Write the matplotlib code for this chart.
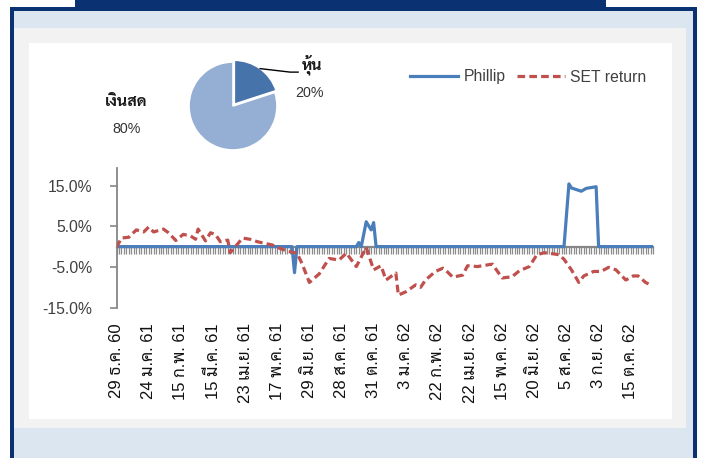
import matplotlib
matplotlib.use("Agg")
import matplotlib.pyplot as plt
from matplotlib.patches import Rectangle
from matplotlib.ticker import FixedLocator, FuncFormatter
import numpy as np

# ---------------- data ----------------
n_categories = 218
date_labels = ["29 ธ.ค. 60", "24 ม.ค. 61", "15 ก.พ. 61", "15 มี.ค. 61", "23 เม.ย. 61",
               "17 พ.ค. 61", "29 มิ.ย. 61", "28 ส.ค. 61", "31 ต.ค. 61", "3 ม.ค. 62",
               "22 ก.พ. 62", "22 เม.ย. 62", "15 พ.ค. 62", "20 มิ.ย. 62", "5 ส.ค. 62",
               "3 ก.ย. 62", "15 ต.ค. 62"]
label_step = 13

phillip_idx = [0, 71, 72, 73, 97, 98, 99, 101, 103, 104, 105, 181, 183, 184, 186,
               188, 190, 194, 195, 217]
phillip_val = [0.0, 0.0, -6.4, 0.0, 0.0, 1.0, 0.0, 6.1, 4.1, 5.9, 0.0, 0.0, 15.4, 14.4,
               14.0, 13.6, 14.3, 14.7, 0.0, 0.0]

set_idx = [0, 2, 5, 8, 11, 13, 15, 19, 21, 24, 27, 30, 32, 33, 36, 38, 40, 42, 45, 46,
           51, 54, 57, 60, 63, 66, 69, 73, 75, 78, 82, 86, 90, 93, 97, 101, 104, 107,
           109, 113, 114, 117, 121, 123, 125, 129, 132, 133, 136, 140, 142, 146, 150,
           152, 156, 160, 163, 167, 170, 173, 177, 179, 181, 184, 187, 189, 193, 196,
           199, 202, 206, 209, 211, 214, 216]
set_val = [-0.2, 2.1, 2.3, 4.1, 3.6, 4.8, 3.6, 4.3, 3.4, 1.5, 3.0, 2.6, 1.8, 4.3, 1.4,
           3.4, 3.0, 1.2, 1.6, -1.5, 2.1, 1.8, 1.2, 0.8, 0.4, -0.4, -1.1, -1.6, -4.1,
           -8.8, -6.7, -2.9, -3.3, -1.6, -4.9, -0.2, -5.7, -4.7, -8.2, -6.5, -11.9,
           -11.1, -9.4, -10.0, -8.2, -6.1, -5.3, -5.7, -7.5, -7.0, -4.7, -4.9, -4.5,
           -4.3, -7.7, -7.4, -5.9, -4.9, -2.0, -1.5, -1.8, -2.0, -3.1, -5.7, -8.8,
           -7.2, -6.1, -6.1, -5.1, -5.7, -8.2, -7.2, -7.2, -8.8, -9.4]

y_ticks = [15, 5, -5, -15]

pie_labels = ["หุ้น", "เงินสด"]
pie_values = [20, 80]

series_names = ["Phillip", "SET return"]

# ---------------- style ----------------
FONT = ['Liberation Sans', 'Sarabun', 'Noto Sans Thai Looped', 'Noto Sans Thai',
        'Bai Jamjuree', 'DejaVu Sans']
plt.rcParams['font.family'] = FONT

NAVY = '#0a3171'
LIGHTBLUE = '#dce6f1'
PANEL = '#f2f2f2'
BLUE = '#4a7ebb'
RED = '#c0504d'
GRAY = '#868686'

W, H = 703, 458
fig = plt.figure(figsize=(W / 100, H / 100), dpi=100)
fig.patch.set_facecolor('white')


def rect_px(x0, y0, x1, y1, color, z=-10):
    fig.patches.append(Rectangle((x0 / W, 1 - y1 / H), (x1 - x0) / W, (y1 - y0) / H,
                                 transform=fig.transFigure, facecolor=color,
                                 edgecolor='none', zorder=z))


# frame decoration
rect_px(75, 0, 606, 10, NAVY)
rect_px(10, 7, 697, 460, NAVY)
rect_px(14, 11, 693, 460, LIGHTBLUE)
rect_px(14, 28, 686, 428, PANEL)
rect_px(29, 43, 672, 419, 'white')

# ---------------- main line chart ----------------
x0p, x1p = 116.5, 653
ytop_p, ybot_p = 168, 307.7
ax = fig.add_axes([x0p / W, 1 - ybot_p / H, (x1p - x0p) / W, (ybot_p - ytop_p) / H])
ax.set_facecolor('none')
ymin, ymax = -15, 19.3
ax.set_ylim(ymin, ymax)
ax.set_xlim(0, n_categories - 1)

ax.plot(phillip_idx, phillip_val, color=BLUE, lw=2.3, zorder=3,
        solid_joinstyle='round', label=series_names[0])
ax.plot(set_idx, set_val, color=RED, lw=2.3, zorder=4, linestyle=(0, (2.4, 1.3)),
        dash_capstyle='butt', label=series_names[1])

for s in ['top', 'right']:
    ax.spines[s].set_visible(False)
ax.spines['left'].set_color(GRAY)
ax.spines['left'].set_linewidth(1.3)
ax.spines['bottom'].set_position(('data', 0))
ax.spines['bottom'].set_color(GRAY)
ax.spines['bottom'].set_linewidth(1.6)

ax.set_yticks(y_ticks)
ax.yaxis.set_major_formatter(FuncFormatter(lambda v, p: f"{v:.1f}%"))
ax.tick_params(axis='y', direction='out', length=5, width=1.2, color=GRAY,
               labelsize=11.3, labelcolor='#404040', pad=12.5)

ax.xaxis.set_major_locator(FixedLocator(np.arange(n_categories)))
ax.tick_params(axis='x', direction='out', length=5, width=0.9, color='#8c8c8c',
               labelbottom=False)

# tick labels at the bottom of the plot
sec = ax.secondary_xaxis('bottom')
sec.set_xticks(np.arange(0, n_categories, label_step)[:len(date_labels)])
sec.set_xticklabels(date_labels, rotation=90, fontsize=12, color='#111111')
sec.tick_params(axis='x', length=0, pad=11)
sec.spines['bottom'].set_visible(False)

# legend
fig.legend(handles=ax.get_lines(), labels=series_names, loc='center left',
           bbox_to_anchor=(410 / W, 1 - 77 / H), ncol=2, frameon=False,
           fontsize=11.3, handlelength=3.05, handletextpad=0.35,
           columnspacing=0.75, borderpad=0, borderaxespad=0,
           labelcolor='#404040')

# ---------------- pie ----------------
cx, cy, r = 233, 106, 44
pax = fig.add_axes([(cx - r) / W, 1 - (cy + r) / H, 2 * r / W, 2 * r / H])
explode = [0.05, 0.0]
wedges, _ = pax.pie(pie_values, colors=['#4673a9', '#94aed4'], startangle=90,
                    counterclock=False, explode=explode, radius=1.0,
                    wedgeprops=dict(edgecolor='white', linewidth=1.2))
pax.set_xlim(-1, 1)
pax.set_ylim(-1, 1)
pax.set_aspect('auto')
pax.axis('off')

total = sum(pie_values)
pcts = [f"{v / total * 100:.0f}%" for v in pie_values]

# stock label with leader line
mid = np.deg2rad(90 - pie_values[0] / total * 360 / 2)
ex, ey = (1 + explode[0]) * np.cos(mid), (1 + explode[0]) * np.sin(mid)
pax.plot([ex, 1.30, 1.48], [ey, 0.77, 0.77], color='black', lw=1.0, clip_on=False)
pax.text(1.79, 0.93, pie_labels[0], ha='center', va='center', fontsize=11.5,
         fontweight='bold', color='#1a1a1a')
pax.text(1.75, 0.29, pcts[0], ha='center', va='center', fontsize=10.3, color='#333333')
pax.text(-2.42, 0.10, pie_labels[1], ha='center', va='center', fontsize=11.5,
         fontweight='bold', color='#1a1a1a')
pax.text(-2.42, -0.53, pcts[1], ha='center', va='center', fontsize=10.3, color='#333333')

fig.savefig("out.png", dpi=100)
